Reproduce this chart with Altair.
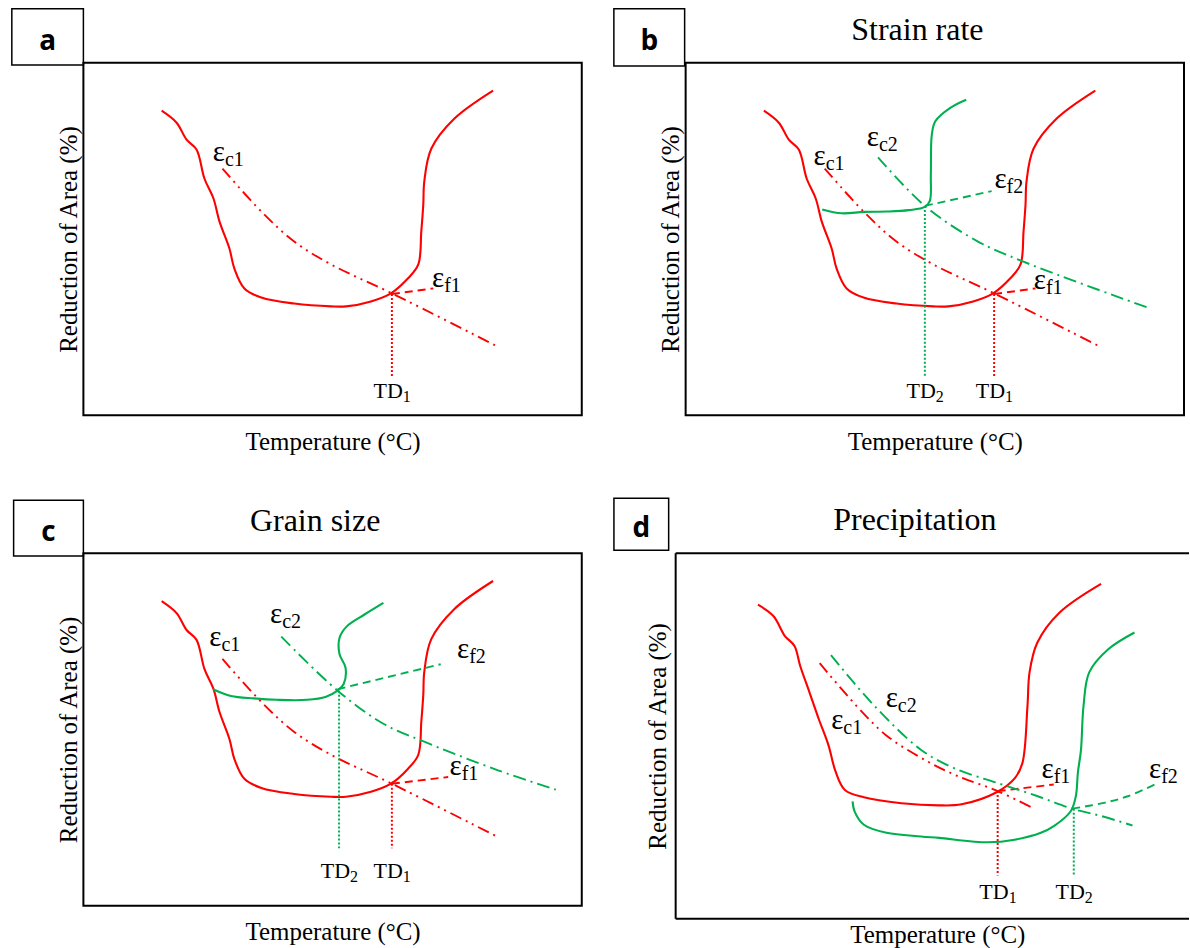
import altair as alt
import pandas as pd

SERIF = "Liberation Serif"
RED = "#ff0000"
GREEN = "#00b050"

# ---------------------------------------------------------------------------
# Data, in panel-local units: temperature 0-100 across the box (left->right),
# reduction of area 0-100 up the box (bottom->top).
# ---------------------------------------------------------------------------

# reference (red) curve, shared by panels a, b, c
RED_T = [15.7, 18.7, 20.7, 22.7, 24.3, 26.1, 27.3, 29.3, 30.3, 32.3, 35.7, 42.3,
         49.7, 52.7, 57.7, 61.7, 65.1, 67.2, 67.8, 68.2, 68.4, 69.8, 74.4, 82.2]
RED_RA = [86.4, 83.0, 78.2, 75.4, 67.1, 61.5, 55.0, 47.3, 41.6, 36.0, 33.4, 31.7,
          30.9, 30.9, 32.3, 34.6, 38.8, 42.8, 52.1, 59.8, 66.3, 75.6, 84.1, 92.1]
EC1_T = [27.9, 35.7, 42.3, 49.7, 61.9, 83.4]
EC1_RA = [70.0, 57.8, 49.3, 42.8, 34.6, 19.3]
EF1_T = [61.9, 70.2]
EF1_RA = [34.4, 36.0]
TD1_T = [61.9, 61.9]
TD1_RA = [34.4, 10.6]

# panel b: strain rate
B_GREEN_T = [27.4, 31.3, 35.8, 40.3, 44.8, 48.0, 49.0, 49.2, 49.4, 50.1, 53.1, 56.3]
B_GREEN_RA = [58.4, 57.3, 57.7, 57.8, 58.2, 59.1, 60.8, 68.3, 79.6, 83.4, 87.2, 89.5]
B_EC2_T = [38.6, 48.0, 58.4, 67.4, 93.4]
B_EC2_RA = [73.2, 59.4, 49.5, 43.8, 30.2]
B_EF2_T = [48.0, 61.4]
B_EF2_RA = [59.4, 63.6]
B_TD2_T = [48.0, 48.0]
B_TD2_RA = [59.4, 10.8]

# panel c: grain size
C_GREEN_T = [26.0, 29.6, 34.2, 38.8, 44.9, 48.7, 51.0, 52.2, 52.6, 51.4, 51.4, 52.9, 56.4, 60.2]
C_GREEN_RA = [61.4, 59.5, 58.8, 58.4, 58.4, 59.3, 61.0, 62.8, 67.5, 71.3, 76.0, 79.3, 82.6, 85.9]
C_EC2_T = [39.7, 51.0, 60.2, 67.9, 83.2, 94.8]
C_EC2_RA = [76.3, 61.0, 51.6, 46.8, 38.4, 32.9]
C_EF2_T = [51.0, 71.7]
C_EF2_RA = [61.4, 68.5]
C_EF1_T = [61.9, 73.2]
C_EF1_RA = [34.6, 36.5]
C_TD2_T = [51.3, 51.3]
C_TD2_RA = [61.0, 16.3]
C_TD1_T = [61.9, 61.9]
C_TD1_RA = [34.6, 16.3]

# panel d: precipitation
D_RED_T = [16.0, 19.0, 21.2, 23.1, 24.2, 26.0, 27.8, 29.7, 31.1, 32.9, 36.6, 43.9,
           51.2, 55.6, 62.4, 65.9, 67.4, 68.4, 68.8, 70.3, 74.6, 82.7]
D_RED_RA = [85.9, 82.8, 77.4, 74.6, 69.2, 62.0, 54.7, 47.5, 40.2, 35.2, 33.2, 31.6,
            31.0, 31.3, 34.6, 38.4, 42.5, 58.3, 67.4, 75.5, 83.7, 91.6]
D_GREEN_T = [34.4, 34.8, 36.6, 41.0, 47.7, 51.2, 60.7, 65.9, 71.0, 73.6, 76.8, 77.8,
             78.2, 78.8, 79.3, 80.4, 84.1, 89.2]
D_GREEN_RA = [32.1, 29.3, 25.7, 23.5, 22.5, 22.1, 20.9, 21.6, 23.5, 25.4, 29.4, 33.5,
              40.0, 46.2, 58.3, 67.4, 73.7, 78.3]
D_EC1_T = [28.0, 35.1, 40.9, 47.6, 54.2, 62.6, 69.4]
D_EC1_RA = [69.9, 58.3, 50.2, 44.1, 39.4, 34.9, 30.3]
D_EC2_T = [30.2, 38.0, 47.6, 54.1, 62.6, 70.4, 77.1, 82.7, 88.8]
D_EC2_RA = [72.1, 59.2, 46.3, 41.2, 37.1, 33.5, 30.1, 28.1, 25.5]
D_EF1_T = [62.6, 73.5]
D_EF1_RA = [34.9, 36.7]
D_EF2_T = [77.1, 83.3, 87.9, 93.1]
D_EF2_RA = [30.1, 31.7, 33.5, 36.7]
D_TD1_T = [62.6, 62.6]
D_TD1_RA = [34.9, 11.8]
D_TD2_T = [77.4, 77.4]
D_TD2_RA = [30.1, 11.8]

# annotation texts: (main, subscript, temperature, reduction of area)
A_LABELS = [("ε", "c1", 28.4, 72.0), ("ε", "f1", 72.4, 36.5), ("TD", "1", 61.9, 5.0)]
B_LABELS = [("ε", "c1", 28.1, 71.1), ("ε", "f1", 72.3, 35.8), ("ε", "c2", 38.8, 76.3),
            ("ε", "f2", 64.4, 64.6), ("TD", "2", 48.0, 5.0), ("TD", "1", 61.9, 5.0)]
C_LABELS = [("ε", "c1", 27.7, 73.7), ("ε", "f1", 75.9, 37.0), ("ε", "c2", 39.9, 80.2),
            ("ε", "f2", 77.4, 70.4), ("TD", "2", 51.3, 7.8), ("TD", "1", 61.9, 7.8)]
D_LABELS = [("ε", "c1", 32.6, 52.0), ("ε", "c2", 43.2, 57.9), ("ε", "f1", 73.5, 38.6),
            ("ε", "f2", 94.4, 38.6), ("TD", "1", 62.6, 5.4), ("TD", "2", 77.4, 5.4)]

PANEL_LETTERS = ["a", "b", "c", "d"]
PANEL_TITLES = ["", "Strain rate", "Grain size", "Precipitation"]

# layout (local units): letter-box extents and title anchor per panel
LETTER_BOX = {
    "a": (-14.36, 0.0, 99.4, 115.3),
    "b": (-14.4, -0.2, 99.1, 115.3),
    "c": (-14.0, 0.0, 99.2, 115.0),
    "d": (-12.0, -1.36, 100.8, 115.0),
}
TITLE_POS = (46.5, 106.4)

STYLES = {
    "solid": dict(strokeWidth=2.1),
    "ec1": dict(strokeWidth=1.9, strokeDash=[12, 5, 2, 5, 2, 5]),
    "ec2": dict(strokeWidth=1.9, strokeDash=[13, 5, 2, 5]),
    "ef": dict(strokeWidth=1.9, strokeDash=[8, 5]),
    "td": dict(strokeWidth=2, strokeDash=[2, 2]),
}

AXIS_STYLE = dict(labels=False, ticks=False, domain=False, grid=False,
                  titleFont=SERIF, titleFontSize=25, titleFontWeight="normal",
                  titleColor="black", minExtent=0)


def build_panel(letter, title, curves, labels, width, height, xdom,
                y_offset=0, y_pad=2, x_pad=14, frame_rules=None, view_stroke=True):
    xaxis = alt.Axis(title="Temperature (°C)", titlePadding=x_pad, **AXIS_STYLE)
    yaxis = alt.Axis(title="Reduction of Area (%)", titlePadding=y_pad, offset=y_offset,
                     **AXIS_STYLE)
    xs = alt.Scale(domain=list(xdom), nice=False, zero=False)
    ys = alt.Scale(domain=[0, 100], nice=False, zero=False)

    def X(f):
        return alt.X(f"{f}:Q", scale=xs, axis=xaxis)

    def Y(f):
        return alt.Y(f"{f}:Q", scale=ys, axis=yaxis)

    layers = []
    for style, color, ts, ras, interp in curves:
        df = pd.DataFrame({"i": list(range(len(ts))), "T": ts, "RA": ras})
        layers.append(
            alt.Chart(df).mark_line(color=color, interpolate=interp, **STYLES[style])
            .encode(x=X("T"), y=Y("RA"), order="i:Q")
        )

    lab = pd.DataFrame(labels, columns=["main", "sub", "T", "RA"])
    eps = lab[lab["main"] == "ε"]
    tds = lab[lab["main"] == "TD"]
    if len(eps):
        layers.append(alt.Chart(eps).mark_text(font=SERIF, fontSize=29, align="right",
                                               baseline="alphabetic", color="black")
                      .encode(x=X("T"), y=Y("RA"), text="main:N"))
        layers.append(alt.Chart(eps).mark_text(font=SERIF, fontSize=20, align="left",
                                               baseline="alphabetic", dy=5, color="black")
                      .encode(x=X("T"), y=Y("RA"), text="sub:N"))
    if len(tds):
        layers.append(alt.Chart(tds).mark_text(font=SERIF, fontSize=22, align="right",
                                               baseline="alphabetic", dx=11, color="black")
                      .encode(x=X("T"), y=Y("RA"), text="main:N"))
        layers.append(alt.Chart(tds).mark_text(font=SERIF, fontSize=16, align="left",
                                               baseline="alphabetic", dx=11, dy=4, color="black")
                      .encode(x=X("T"), y=Y("RA"), text="sub:N"))

    t0, t1, r0, r1 = LETTER_BOX[letter]
    box = pd.DataFrame({"T0": [t0], "T1": [t1], "RA0": [r0], "RA1": [r1],
                        "Tc": [(t0 + t1) / 2], "RAc": [(r0 + r1) / 2], "letter": [letter]})
    layers.append(alt.Chart(box).mark_rect(fillOpacity=0, stroke="black", strokeWidth=1.5)
                  .encode(x=X("T0"), x2="T1:Q", y=Y("RA0"), y2="RA1:Q"))
    layers.append(alt.Chart(box).mark_text(font="Open Sans", fontWeight="bold", fontSize=28,
                                           align="center", baseline="middle", dy=5, color="black")
                  .encode(x=X("Tc"), y=Y("RAc"), text="letter:N"))

    if title:
        tdf = pd.DataFrame({"T": [TITLE_POS[0]], "RA": [TITLE_POS[1]], "title": [title]})
        layers.append(alt.Chart(tdf).mark_text(font=SERIF, fontSize=32, align="center",
                                               baseline="alphabetic", color="black")
                      .encode(x=X("T"), y=Y("RA"), text="title:N"))

    if frame_rules is not None:
        layers.append(alt.Chart(frame_rules).mark_rule(color="black", strokeWidth=2)
                      .encode(x=X("T0"), x2="T1:Q", y=Y("RA0"), y2="RA1:Q"))

    ch = alt.layer(*layers).properties(width=width, height=height)
    if not view_stroke:
        ch = ch.properties(view=alt.ViewBackground(stroke="transparent", strokeWidth=0))
    return ch


ref_curves = [
    ("solid", RED, RED_T, RED_RA, "catmull-rom"),
    ("ec1", RED, EC1_T, EC1_RA, "catmull-rom"),
    ("ef", RED, EF1_T, EF1_RA, "linear"),
    ("td", RED, TD1_T, TD1_RA, "linear"),
]

panel_a = build_panel("a", PANEL_TITLES[0], ref_curves, A_LABELS, 499, 353, (0, 100))

panel_b = build_panel("b", PANEL_TITLES[1], ref_curves + [
    ("solid", GREEN, B_GREEN_T, B_GREEN_RA, "catmull-rom"),
    ("ec2", GREEN, B_EC2_T, B_EC2_RA, "catmull-rom"),
    ("ef", GREEN, B_EF2_T, B_EF2_RA, "linear"),
    ("td", GREEN, B_TD2_T, B_TD2_RA, "linear"),
], B_LABELS, 499, 353, (0, 100))

panel_c = build_panel("c", PANEL_TITLES[2], [
    ("solid", RED, RED_T, RED_RA, "catmull-rom"),
    ("ec1", RED, EC1_T, EC1_RA, "catmull-rom"),
    ("ef", RED, C_EF1_T, C_EF1_RA, "linear"),
    ("td", RED, C_TD1_T, C_TD1_RA, "linear"),
    ("solid", GREEN, C_GREEN_T, C_GREEN_RA, "catmull-rom"),
    ("ec2", GREEN, C_EC2_T, C_EC2_RA, "catmull-rom"),
    ("ef", GREEN, C_EF2_T, C_EF2_RA, "linear"),
    ("td", GREEN, C_TD2_T, C_TD2_RA, "linear"),
], C_LABELS, 499, 353, (0, 100))

d_frame = pd.DataFrame({"T0": [0, 0, 0], "T1": [0, 99.8, 99.8],
                        "RA0": [0, 100, 0], "RA1": [100, 100, 0]})
panel_d = build_panel("d", PANEL_TITLES[3], [
    ("solid", RED, D_RED_T, D_RED_RA, "catmull-rom"),
    ("ec1", RED, D_EC1_T, D_EC1_RA, "catmull-rom"),
    ("ef", RED, D_EF1_T, D_EF1_RA, "linear"),
    ("td", RED, D_TD1_T, D_TD1_RA, "linear"),
    ("solid", GREEN, D_GREEN_T, D_GREEN_RA, "catmull-rom"),
    ("ec2", GREEN, D_EC2_T, D_EC2_RA, "catmull-rom"),
    ("ef", GREEN, D_EF2_T, D_EF2_RA, "catmull-rom"),
    ("td", GREEN, D_TD2_T, D_TD2_RA, "linear"),
], D_LABELS, 504, 366, (1.94, 99.8), y_offset=10, y_pad=5, x_pad=4,
    frame_rules=d_frame, view_stroke=False)

chart = alt.concat(
    panel_a, panel_b, panel_c, panel_d,
    columns=2,
    spacing={"row": 138, "column": 104},
    bounds="flush",
    align="each",
    padding={"left": 9.5, "top": 6.25, "right": 0, "bottom": 0},
).configure_view(stroke="black", strokeWidth=2)

chart.save("out.html", embed_options={"renderer": "svg", "actions": False})
